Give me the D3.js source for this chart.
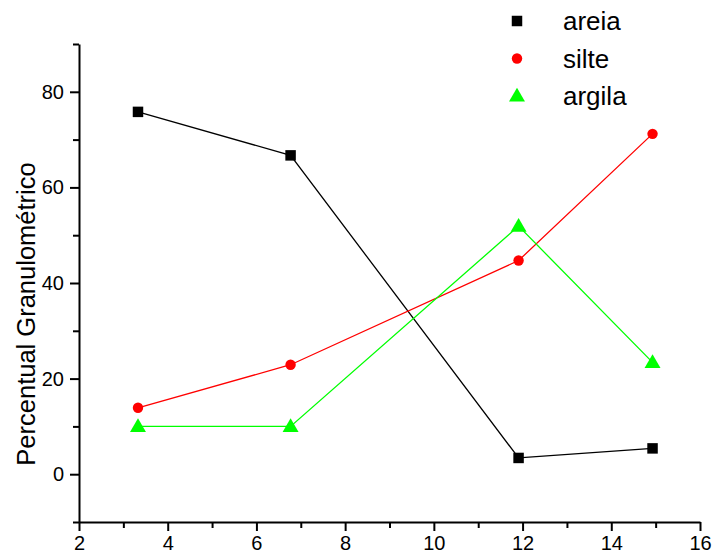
<!DOCTYPE html>
<html>
<head>
<meta charset="utf-8">
<script src="https://cdn.jsdelivr.net/npm/d3@7"></script>
<style>
  body { margin: 0; background: #fff; }
  text { font-family: "Liberation Sans", Arial, sans-serif; }
</style>
</head>
<body>
<svg id="chart" width="715" height="556"></svg>
<script>
// data
const xValues = [3.33, 6.77, 11.91, 14.93];
const areia = [75.8, 66.7, 3.4, 5.4];
const silte = [13.9, 22.9, 44.7, 71.2];
const argila = [10.0, 10.0, 51.9, 23.4];
const xTicks = [2, 4, 6, 8, 10, 12, 14, 16];
const yTicks = [0, 20, 40, 60, 80];

const series = [
  { name: "areia", values: areia, color: "#000000", shape: "square" },
  { name: "silte", values: silte, color: "#ff0000", shape: "circle" },
  { name: "argila", values: argila, color: "#00ff00", shape: "triangle" }
];

const svg = d3.select("#chart");

const x = d3.scaleLinear().domain([2, 16]).range([79, 700]);
const y = d3.scaleLinear().domain([-10, 90]).range([522, 44]);

// x axis: major + minor ticks
const xMinor = d3.range(3, 16, 2);
svg.append("g")
  .attr("transform", `translate(0,${y(-10)})`)
  .call(d3.axisBottom(x).tickValues(xMinor).tickSize(6).tickFormat(""))
  .call(g => g.select(".domain").remove());
svg.append("g")
  .attr("transform", `translate(0,${y(-10)})`)
  .call(d3.axisBottom(x).tickValues(xTicks).tickSize(9).tickSizeOuter(0).tickPadding(5).tickFormat(d3.format("d")))
  .call(g => g.selectAll("text").attr("font-size", 20).attr("fill", "#000"));

// y axis
const yMinor = [-10, 10, 30, 50, 70, 90];
svg.append("g")
  .attr("transform", `translate(${x(2)},0)`)
  .call(d3.axisLeft(y).tickValues(yMinor).tickSize(6).tickFormat(""))
  .call(g => g.select(".domain").remove());
svg.append("g")
  .attr("transform", `translate(${x(2)},0)`)
  .call(d3.axisLeft(y).tickValues(yTicks).tickSize(9).tickSizeOuter(0).tickPadding(6).tickFormat(d3.format("d")))
  .call(g => g.selectAll("text").attr("font-size", 20).attr("fill", "#000"));

svg.selectAll(".domain, .tick line").attr("stroke", "#000").attr("stroke-width", 2);

svg.append("text")
  .attr("transform", `translate(35,${(y(-10) + y(90)) / 2 + 31}) rotate(-90)`)
  .attr("text-anchor", "middle")
  .attr("font-size", 25.5)
  .text("Percentual Granulométrico");

const line = d3.line().x(d => x(d[0])).y(d => y(d[1]));

const symbolFor = s => s === "square" ? d3.symbolSquare : s === "circle" ? d3.symbolCircle : d3.symbolTriangle;
const sizeFor = s => s === "square" ? 110 : s === "circle" ? 85 : 110;

series.forEach(s => {
  const pts = xValues.map((xv, i) => [xv, s.values[i]]);
  svg.append("path")
    .attr("d", line(pts))
    .attr("fill", "none")
    .attr("stroke", s.color)
    .attr("stroke-width", 1.3);
  svg.append("g").selectAll("path")
    .data(pts)
    .join("path")
    .attr("transform", d => `translate(${x(d[0])},${y(d[1]) + (s.shape === "triangle" ? 1 : 0)})`)
    .attr("d", d3.symbol(symbolFor(s.shape), sizeFor(s.shape)))
    .attr("fill", s.color);
});

// legend
const legend = svg.append("g");
series.forEach((s, i) => {
  const ly = 21 + i * 37.5;
  legend.append("path")
    .attr("transform", `translate(517,${ly + (s.shape === "triangle" ? 1 : 0)})`)
    .attr("d", d3.symbol(symbolFor(s.shape), sizeFor(s.shape)))
    .attr("fill", s.color);
  legend.append("text")
    .attr("x", 563)
    .attr("y", ly + 9)
    .attr("font-size", 26)
    .text(s.name);
});
</script>
</body>
</html>
